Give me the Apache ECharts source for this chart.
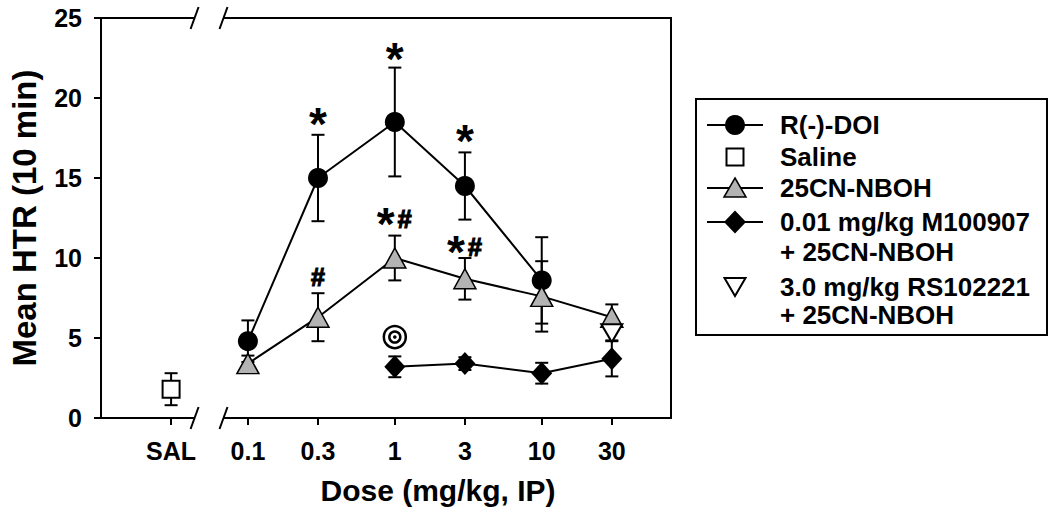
<!DOCTYPE html>
<html><head><meta charset="utf-8">
<script src="https://cdn.jsdelivr.net/npm/echarts@6/dist/echarts.min.js"></script>
<style>html,body{margin:0;padding:0;background:#fff}#c{width:1050px;height:518px}</style>
</head><body><div id="c"></div>
<script>
// ---- data (doses in mg/kg; SAL plotted at 0.03 on the log dose axis) ----
const tickLabels = ['SAL', '0.1', '0.3', '1', '3', '10', '30'];
const tickDoses  = [0.03, 0.1, 0.3, 1, 3, 10, 30];

const doiDoses = [0.1, 0.3, 1, 3, 10];
const doiMean  = [4.8, 15.0, 18.5, 14.5, 8.6];
const doiSem   = [1.3, 2.7, 3.4, 2.1, 2.7];

const salDoses = [0.03];
const salMean  = [1.8];
const salSem   = [1.0];

const cnDoses = [0.1, 0.3, 1, 3, 10, 30];
const cnMean  = [3.4, 6.3, 10.0, 8.7, 7.6, 6.3];
const cnSem   = [0.5, 1.5, 1.4, 1.3, 2.2, 0.8];

const mdlDoses = [1, 3, 10, 30];
const mdlMean  = [3.2, 3.4, 2.8, 3.7];
const mdlSem   = [0.65, 0.4, 0.65, 1.1];

const rsDoses = [30];
const rsMean  = [5.3];
const rsSem   = [0.45];

// significance annotations
const annoDoses = [0.3, 1, 3, 0.3, 1, 3];
const annoY     = [18.75, 22.8, 17.7, 8.9, 12.5, 10.75];
const annoText  = ['*', '*', '*', '#', '*#', '*#'];
const targetDoses = [1];
const targetY     = [5.06];

// ---- helpers ----
const FONT = '"Liberation Sans", Arial, sans-serif';
const lx = d => Math.log10(d);
const pts = (ds, ms) => ds.map((d, i) => [lx(d), ms[i]]);
const BREAK_LO = -1.363, BREAK_HI = -1.166;
const GREY = '#b3b3b3';

function errSeries(ds, ms, ss) {
  return {
    type: 'custom', z: 1, silent: true, clip: false,
    data: ds.map((d, i) => [lx(d), ms[i] - ss[i], ms[i] + ss[i]]),
    encode: { x: 0, y: [1, 2] },
    renderItem(params, api) {
      const x = api.value(0);
      const lo = api.coord([x, api.value(1)]);
      const hi = api.coord([x, api.value(2)]);
      const cw = 6.5, st = { stroke: '#000', lineWidth: 2 };
      return { type: 'group', children: [
        { type: 'line', shape: { x1: lo[0], y1: lo[1], x2: hi[0], y2: hi[1] }, style: st },
        { type: 'line', shape: { x1: lo[0] - cw, y1: lo[1], x2: lo[0] + cw, y2: lo[1] }, style: st },
        { type: 'line', shape: { x1: hi[0] - cw, y1: hi[1], x2: hi[0] + cw, y2: hi[1] }, style: st }
      ]};
    }
  };
}

const chart = echarts.init(document.getElementById('c'), null, { renderer: 'svg' });

const legendRows = [125, 157, 188, 222, 287];
const LX = 735, LT = 780;
const legendText = (t, y) => ({ type: 'text', x: LT, y: y, style: { text: t, font: 'bold 26px ' + FONT, fill: '#000', textVerticalAlign: 'middle' } });
const legendLine = y => ({ type: 'line', shape: { x1: 707, y1: y, x2: 763, y2: y }, style: { stroke: '#000', lineWidth: 2 } });

const option = {
  animation: false,
  backgroundColor: '#fff',
  grid: { left: 99, right: 379, top: 18, bottom: 100, show: true, borderColor: '#000', borderWidth: 2, backgroundColor: 'transparent' },
  xAxis: {
    type: 'value', min: -2, max: 1.88,
    name: 'Dose (mg/kg, IP)', nameLocation: 'middle', nameGap: 57,
    nameTextStyle: { fontFamily: FONT, fontWeight: 'bold', fontSize: 30, color: '#000', padding: [0, 0, 0, 104] },
    axisLine: { onZero: false, lineStyle: { color: '#000', width: 2 } },
    axisTick: { customValues: tickDoses.map(lx), length: 7, lineStyle: { color: '#000', width: 2 } },
    axisLabel: {
      customValues: tickDoses.map(lx), margin: 20,
      fontFamily: FONT, fontWeight: 'bold', fontSize: 25, color: '#000',
      formatter: v => { const i = tickDoses.findIndex(d => Math.abs(lx(d) - v) < 1e-6); return i >= 0 ? tickLabels[i] : ''; }
    },
    splitLine: { show: false }
  },
  yAxis: {
    type: 'value', min: 0, max: 25, interval: 5,
    name: 'Mean HTR (10 min)', nameLocation: 'middle', nameGap: 60,
    nameTextStyle: { fontFamily: FONT, fontWeight: 'bold', fontSize: 33, color: '#000' },
    axisLine: { show: true, onZero: false, lineStyle: { color: '#000', width: 2 } },
    axisTick: { show: true, length: 7, lineStyle: { color: '#000', width: 2 } },
    axisLabel: { margin: 19, fontFamily: FONT, fontWeight: 'bold', fontSize: 25, color: '#000' },
    splitLine: { show: false }
  },
  series: [
    errSeries(doiDoses, doiMean, doiSem),
    errSeries(salDoses, salMean, salSem),
    errSeries(cnDoses, cnMean, cnSem),
    errSeries(mdlDoses, mdlMean, mdlSem),
    errSeries(rsDoses, rsMean, rsSem),
    { name: 'R(-)-DOI', type: 'line', z: 3, data: pts(doiDoses, doiMean), symbol: 'circle', symbolSize: 20,
      itemStyle: { color: '#000', opacity: 1 }, lineStyle: { color: '#000', width: 2 }, emphasis: { disabled: true } },
    { name: 'Saline', type: 'scatter', z: 3, data: pts(salDoses, salMean), symbol: 'rect', symbolSize: 17,
      itemStyle: { color: '#fff', borderColor: '#000', borderWidth: 2, opacity: 1 }, emphasis: { disabled: true } },
    { name: '25CN-NBOH', type: 'line', z: 3, data: pts(cnDoses, cnMean), symbol: 'triangle', symbolSize: [22, 20],
      itemStyle: { color: GREY, borderColor: '#000', borderWidth: 1.5, opacity: 1 }, lineStyle: { color: '#000', width: 2 }, emphasis: { disabled: true } },
    { name: '0.01 mg/kg M100907 + 25CN-NBOH', type: 'line', z: 3, data: pts(mdlDoses, mdlMean), symbol: 'diamond', symbolSize: [21, 23],
      itemStyle: { color: '#000', opacity: 1 }, lineStyle: { color: '#000', width: 2 }, emphasis: { disabled: true } },
    { name: '3.0 mg/kg RS102221 + 25CN-NBOH', type: 'scatter', z: 4, data: pts(rsDoses, rsMean), symbol: 'triangle', symbolRotate: 180, symbolSize: [21, 18],
      itemStyle: { color: '#fff', borderColor: '#000', borderWidth: 2, opacity: 1 }, emphasis: { disabled: true } },
    { type: 'custom', z: 4, silent: true, clip: false,
      data: pts(annoDoses, annoY), encode: { x: 0, y: 1 },
      renderItem(params, api) {
        const p = api.coord([api.value(0), api.value(1)]);
        const t = annoText[params.dataIndex];
        const star = (x) => ({ type: 'text', x: x, y: p[1] + 6, style: { text: '*', font: 'bold 46px ' + FONT, fill: '#000', textAlign: 'center', textVerticalAlign: 'middle' } });
        const hash = (x) => ({ type: 'text', x: x, y: p[1] + 1, style: { text: '#', font: 'bold 25px ' + FONT, fill: '#000', stroke: '#000', lineWidth: 1.2, textAlign: 'center', textVerticalAlign: 'middle' } });
        const ch = [];
        if (t === '*') ch.push(star(p[0]));
        else if (t === '#') ch.push(hash(p[0]));
        else { ch.push(star(p[0] - 9)); ch.push(hash(p[0] + 10)); }
        return { type: 'group', children: ch };
      } },
    { type: 'custom', z: 4, silent: true, clip: false,
      data: pts(targetDoses, targetY), encode: { x: 0, y: 1 },
      renderItem(params, api) {
        const p = api.coord([api.value(0), api.value(1)]);
        return { type: 'group', children: [
          { type: 'circle', shape: { cx: p[0], cy: p[1], r: 11 }, style: { fill: 'none', stroke: '#000', lineWidth: 2.5 } },
          { type: 'circle', shape: { cx: p[0], cy: p[1], r: 5.5 }, style: { fill: 'none', stroke: '#000', lineWidth: 2.5 } },
          { type: 'circle', shape: { cx: p[0], cy: p[1], r: 1.8 }, style: { fill: '#000' } }
        ]};
      } },
    { type: 'custom', z: 10, silent: true, clip: false,
      data: [[BREAK_LO, BREAK_HI]], encode: { x: [0, 1] },
      renderItem(params, api) {
        const a = api.coord([api.value(0), 0]), b = api.coord([api.value(1), 0]);
        const at = api.coord([api.value(0), 25]), bt = api.coord([api.value(1), 25]);
        const st = { stroke: '#000', lineWidth: 2 };
        const slash = (x, y) => ({ type: 'line', shape: { x1: x - 4, y1: y + 11, x2: x + 4, y2: y - 11 }, style: st });
        return { type: 'group', children: [
          { type: 'rect', shape: { x: a[0], y: a[1] - 3, width: b[0] - a[0], height: 6 }, style: { fill: '#fff' } },
          { type: 'rect', shape: { x: at[0], y: at[1] - 3, width: bt[0] - at[0], height: 6 }, style: { fill: '#fff' } },
          slash(a[0], a[1]), slash(b[0], b[1]), slash(at[0], at[1]), slash(bt[0], bt[1])
        ]};
      } }
  ],
  graphic: [
    { type: 'rect', shape: { x: 696, y: 99, width: 351, height: 236 }, style: { fill: '#fff', stroke: '#000', lineWidth: 2 } },
    legendLine(legendRows[0]),
    { type: 'circle', shape: { cx: LX, cy: legendRows[0], r: 10 }, style: { fill: '#000' } },
    legendText('R(-)-DOI', legendRows[0]),
    { type: 'rect', shape: { x: LX - 8.5, y: legendRows[1] - 8.5, width: 17, height: 17 }, style: { fill: '#fff', stroke: '#000', lineWidth: 2 } },
    legendText('Saline', legendRows[1]),
    legendLine(legendRows[2]),
    { type: 'polygon', shape: { points: [[LX, legendRows[2] - 10], [LX + 11, legendRows[2] + 9], [LX - 11, legendRows[2] + 9]] }, style: { fill: GREY, stroke: '#000', lineWidth: 1.5 } },
    legendText('25CN-NBOH', legendRows[2]),
    legendLine(legendRows[3]),
    { type: 'polygon', shape: { points: [[LX, legendRows[3] - 11.5], [LX + 11, legendRows[3]], [LX, legendRows[3] + 11.5], [LX - 11, legendRows[3]]] }, style: { fill: '#000' } },
    legendText('0.01 mg/kg M100907', legendRows[3]),
    legendText('+ 25CN-NBOH', legendRows[3] + 30),
    { type: 'polygon', shape: { points: [[LX - 10.5, legendRows[4] - 9], [LX + 10.5, legendRows[4] - 9], [LX, legendRows[4] + 9]] }, style: { fill: '#fff', stroke: '#000', lineWidth: 2 } },
    legendText('3.0 mg/kg RS102221', legendRows[4]),
    legendText('+ 25CN-NBOH', legendRows[4] + 28)
  ]
};
chart.setOption(option);
</script></body></html>
